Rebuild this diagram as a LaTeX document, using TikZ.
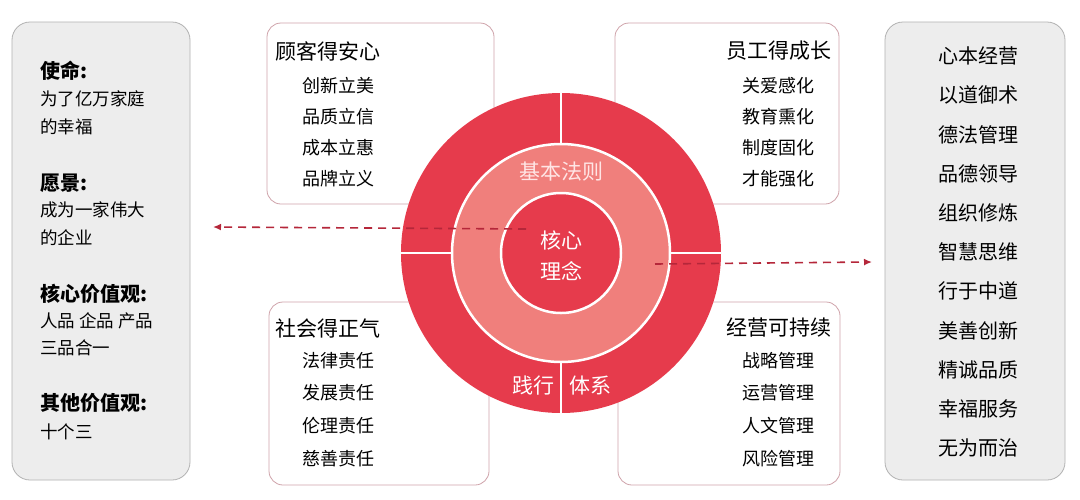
\documentclass[tikz,border=0pt]{standalone}
\usepackage{fontspec}
\usetikzlibrary{arrows.meta}
\setmainfont{Noto Sans CJK SC}
\begin{document}
\begin{tikzpicture}[x=1pt,y=-1pt,
  panel/.style={draw=gray!60,fill=gray!14,rounded corners=18pt,line width=0.8pt},
  rbox/.style={draw=boxc,rounded corners=14pt,line width=0.8pt},
  ttl/.style={font=\fontsize{21}{24}\selectfont,inner sep=0pt},
  itm/.style={font=\fontsize{18}{21}\selectfont,inner sep=0pt},
  ltb/.style={font=\fontsize{20}{23}\selectfont\bfseries,anchor=west,inner sep=0pt},
  ltn/.style={font=\fontsize{17.5}{20}\selectfont,anchor=west,inner sep=0pt},
  rl/.style={font=\fontsize{20}{23}\selectfont,inner sep=0pt},
  ctr/.style={font=\fontsize{21}{24}\selectfont,text=white,inner sep=0pt},
  darr/.style={draw=arrc,line width=1.6pt,dash pattern=on 8pt off 6pt,-{Latex[length=8pt,width=7pt]}}]
\definecolor{red1}{HTML}{E63B4C}
\definecolor{red2}{HTML}{F07F7C}
\definecolor{boxc}{HTML}{CFA3AA}
\definecolor{arrc}{HTML}{B5273A}
\useasboundingbox (0,0) rectangle (1080,499);
\fill[white] (0,0) rectangle (1080,499);
% panels
\draw[panel] (12,22) rectangle (190,480);
\draw[panel] (885,22) rectangle (1065,480);
% boxes
\draw[rbox] (267,23) rectangle (494,204);
\draw[rbox] (615,23) rectangle (839,204);
\draw[rbox] (269,302) rectangle (489,485);
\draw[rbox] (618,302) rectangle (840,485);
% circles
\coordinate (c) at (561,253);
\fill[red1] (c) circle (160);
\fill[red2] (c) circle (109);
\draw[white,line width=2.5pt] (c) circle (109);
\fill[red1] (c) circle (60);
\draw[white,line width=2.5pt] (c) circle (60);
\draw[white,line width=2.5pt] (561,93) -- (561,144);
\draw[white,line width=2.5pt] (561,362) -- (561,414);
\draw[white,line width=2.5pt] (401,253) -- (452,253);
\draw[white,line width=2.5pt] (670,253) -- (721,253);
\node[ctr,text=red!10] (jb) at (561,172) {基本法则};
\node[ctr] (hx) at (561,240) {核心};
\node[ctr] (ln) at (561,271) {理念};
\node[ctr] (jx) at (533,386) {践行};
\node[ctr] (tx) at (590,386) {体系};
% arrows
\coordinate (la) at (526,229);
\coordinate (le) at (213,227);
\coordinate (ra) at (655,264);
\coordinate (re) at (872,262);
\draw[darr] (la) -- (le);
\draw[darr] (ra) -- (re);
% top-left
\node[ttl,anchor=west] (t1) at (275,51) {顾客得安心};
\foreach \t/\y in {创新立美/86,品质立信/117,成本立惠/148,品牌立义/179}
  \node[itm,anchor=west] at (302,\y) {\t};
% top-right
\node[ttl,anchor=east] (t2) at (832,51) {员工得成长};
\foreach \t/\y in {关爱感化/86,教育熏化/117,制度固化/148,才能强化/179}
  \node[itm,anchor=east] at (815,\y) {\t};
% bottom-left
\node[ttl,anchor=west] (t3) at (275,328) {社会得正气};
\foreach \t/\y in {法律责任/361,发展责任/393,伦理责任/426,慈善责任/459}
  \node[itm,anchor=west] at (302,\y) {\t};
% bottom-right
\node[ttl,anchor=east] (t4) at (832,328) {经营可持续};
\foreach \t/\y in {战略管理/361,运营管理/393,人文管理/426,风险管理/459}
  \node[itm,anchor=east] at (815,\y) {\t};
% left texts
\node[ltb] at (40,71) {使命:};
\node[ltn] at (40,99) {为了亿万家庭};
\node[ltn] at (40,127) {的幸福};
\node[ltb] at (40,183) {愿景:};
\node[ltn] at (40,210) {成为一家伟大};
\node[ltn] at (40,238) {的企业};
\node[ltb] at (40,294) {核心价值观:};
\node[ltn] at (40,321) {人品 企品 产品};
\node[ltn] at (40,348) {三品合一};
\node[ltb] at (40,403) {其他价值观:};
\node[ltn] at (40,432) {十个三};
% right list
\foreach \t [count=\i from 0] in {心本经营,以道御术,德法管理,品德领导,组织修炼,智慧思维,行于中道,美善创新,精诚品质,幸福服务,无为而治}
  \node[rl] at (978,{56+39.2*\i}) {\t};
\end{tikzpicture}
\end{document}
